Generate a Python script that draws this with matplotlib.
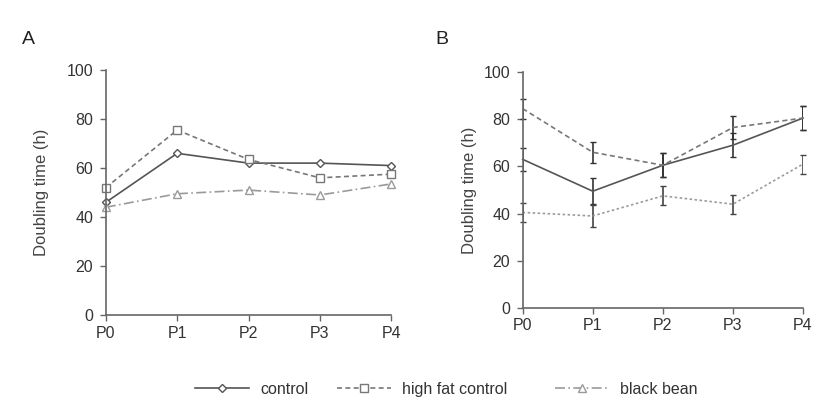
import matplotlib
matplotlib.use("Agg")
import matplotlib.pyplot as plt
import numpy as np

plt.rcParams['font.family'] = ['Liberation Sans', 'DejaVu Sans']

passages = ["P0", "P1", "P2", "P3", "P4"]
yticks = [0, 20, 40, 60, 80, 100]

# Panel A
a_control = [46, 66, 62, 62, 61]
a_highfat = [52, 75.5, 63.5, 56, 57.5]
a_blackbean = [44, 49.5, 51, 49, 53.5]

# Panel B (means and error)
b_control = [63, 49.5, 60.5, 69, 80.5]
b_control_err = [5, 5.5, 5, 5, 5]
b_highfat = [84.5, 66, 60.5, 76.5, 80.5]
b_highfat_err = [4.2, 4.5, 5, 4.7, 5]
b_blackbean = [40.5, 39, 47.5, 44, 61]
b_blackbean_err = [4.2, 4.5, 4, 4, 4]

series_names = ["control", "high fat control", "black bean"]

fig = plt.figure(figsize=(8.27, 4.19), dpi=100)
axA = fig.add_axes([0.128, 0.248, 0.345, 0.585])
axB = fig.add_axes([0.632, 0.265, 0.339, 0.563])

c_ctrl = "#555555"
c_hf = "#777777"
c_bb = "#9a9a9a"
x = np.arange(len(passages))

l1, = axA.plot(x, a_control, color=c_ctrl, lw=1.2, ls='-', marker='D', ms=4.5,
               mfc='white', mec=c_ctrl, mew=1.0)
l2, = axA.plot(x, a_highfat, color=c_hf, lw=1.2, ls=(0, (3, 2)), marker='s', ms=6,
               mfc='white', mec=c_hf, mew=1.0)
l3, = axA.plot(x, a_blackbean, color=c_bb, lw=1.2, ls=(0, (6, 2, 1, 2)), marker='^', ms=5.5,
               mfc='white', mec=c_bb, mew=1.0)

axB.errorbar(x, b_control, yerr=b_control_err, color=c_ctrl, lw=1.2, ls='-',
             capsize=2.5, elinewidth=1.2, ecolor="#333333")
axB.errorbar(x, b_highfat, yerr=b_highfat_err, color=c_hf, lw=1.2, ls=(0, (3, 2)),
             capsize=2.5, elinewidth=1.2, ecolor="#333333")
axB.errorbar(x, b_blackbean, yerr=b_blackbean_err, color=c_bb, lw=1.2, ls=(0, (1.5, 1.5)),
             capsize=2.5, elinewidth=1.2, ecolor="#444444")

for ax, pad in ((axA, 13), (axB, 5)):
    ax.set_xlim(0, 4)
    ax.set_ylim(0, 100)
    ax.set_xticks(x)
    ax.set_xticklabels(passages, fontsize=11.5, color="#333333")
    ax.set_yticks(yticks)
    ax.set_yticklabels([str(v) for v in yticks], fontsize=11.5, color="#333333")
    for s in ("top", "right"):
        ax.spines[s].set_visible(False)
    for s in ("left", "bottom"):
        ax.spines[s].set_color("#666666")
        ax.spines[s].set_linewidth(1.2)
    ax.tick_params(axis='both', colors="#666666", labelcolor="#333333", length=4, width=1.0)
    ax.tick_params(axis='y', pad=5)
    ax.set_ylabel("Doubling time (h)", fontsize=12, color="#444444", labelpad=pad)
    ax.patch.set_alpha(0)
    for sp in ax.spines.values():
        sp.set_clip_on(False)

for l in axA.lines + axB.lines:
    l.set_clip_on(False)

fig.text(0.026, 0.905, "A", fontsize=14, color="#222222", va='center')
fig.text(0.527, 0.905, "B", fontsize=14, color="#222222", va='center')

# three legend entries placed individually (uneven spacing in reference)
handles = [l1, l2, l3]
starts = [195, 337, 555]
for h, name, sx in zip(handles, series_names, starts):
    fig.legend([h], [name], loc='center left', bbox_to_anchor=(sx / 827, 1 - 389 / 419),
               frameon=False, fontsize=11.5, handlelength=3.4, handletextpad=0.7,
               borderaxespad=0, borderpad=0, labelcolor="#333333")

fig.savefig("out.png", dpi=100)
